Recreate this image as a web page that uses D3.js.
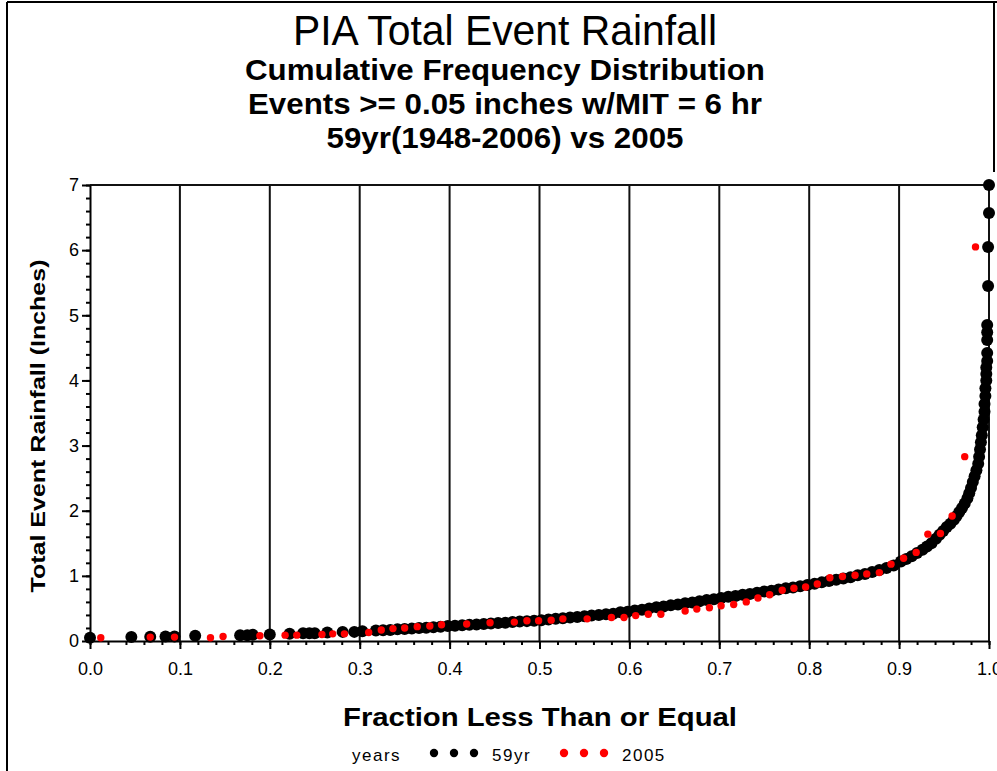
<!DOCTYPE html>
<html>
<head>
<meta charset="utf-8">
<script src="https://cdn.jsdelivr.net/npm/d3@7"></script>
<style>
body { margin: 0; background: #fff; }
svg { display: block; }
.tick text { font-family: "Liberation Sans", Arial, sans-serif; font-size: 18px; fill: #000; }
</style>
</head>
<body>
<div id="canvas"></div>
<script>
// 59yr (1948-2006) events: fraction less than or equal, total event rainfall (inches)
var frac59 = [0.000, 0.046, 0.067, 0.084, 0.094, 0.117, 0.167, 0.175, 0.181, 0.200,
  0.222, 0.237, 0.244, 0.250, 0.264, 0.281, 0.294, 0.303, 0.318, 0.326,
  0.334, 0.342, 0.350, 0.358, 0.366, 0.374, 0.382, 0.390, 0.398, 0.406,
  0.414, 0.422, 0.430, 0.438, 0.446, 0.454, 0.462, 0.470, 0.478, 0.486,
  0.494, 0.502, 0.510, 0.518, 0.526, 0.534, 0.542, 0.550, 0.558, 0.566,
  0.574, 0.582, 0.590, 0.598, 0.606, 0.614, 0.622, 0.630, 0.638, 0.646,
  0.654, 0.662, 0.670, 0.678, 0.686, 0.694, 0.702, 0.710, 0.718, 0.726,
  0.734, 0.742, 0.750, 0.758, 0.766, 0.774, 0.782, 0.790, 0.798, 0.806,
  0.814, 0.822, 0.830, 0.838, 0.846, 0.854, 0.862, 0.870, 0.878, 0.886,
  0.894, 0.902, 0.908, 0.914, 0.920, 0.926, 0.931, 0.936, 0.941, 0.945,
  0.949, 0.953, 0.957, 0.961, 0.964, 0.967, 0.970, 0.973, 0.976, 0.978,
  0.980, 0.982, 0.984, 0.986, 0.988, 0.989, 0.990, 0.991, 0.992, 0.993,
  0.994, 0.995, 0.995, 0.996, 0.996, 0.997, 0.997, 0.997, 0.998, 0.998,
  0.998, 0.998, 0.998, 0.999, 0.999, 1.000, 1.000];
var rain59 = [0.05, 0.06, 0.065, 0.07, 0.07, 0.08, 0.09, 0.09, 0.095, 0.10,
  0.11, 0.12, 0.12, 0.12, 0.13, 0.14, 0.14, 0.15, 0.16, 0.165,
  0.17, 0.18, 0.185, 0.19, 0.20, 0.205, 0.21, 0.22, 0.23, 0.235,
  0.24, 0.25, 0.255, 0.26, 0.27, 0.275, 0.28, 0.29, 0.30, 0.305,
  0.31, 0.32, 0.33, 0.34, 0.35, 0.36, 0.37, 0.38, 0.39, 0.40,
  0.41, 0.42, 0.44, 0.45, 0.47, 0.48, 0.50, 0.52, 0.53, 0.55,
  0.56, 0.58, 0.59, 0.61, 0.63, 0.64, 0.66, 0.68, 0.69, 0.71,
  0.72, 0.74, 0.76, 0.77, 0.79, 0.81, 0.82, 0.84, 0.86, 0.88,
  0.90, 0.92, 0.94, 0.96, 0.98, 1.01, 1.03, 1.06, 1.09, 1.12,
  1.16, 1.22, 1.26, 1.30, 1.35, 1.40, 1.45, 1.50, 1.57, 1.63,
  1.69, 1.75, 1.80, 1.86, 1.92, 1.98, 2.04, 2.11, 2.19, 2.27,
  2.35, 2.44, 2.53, 2.62, 2.72, 2.83, 2.94, 3.05, 3.16, 3.28,
  3.40, 3.52, 3.64, 3.76, 3.88, 4.00, 4.10, 4.20, 4.30, 4.42,
  4.62, 4.74, 4.85, 5.45, 6.05, 6.57, 7.00];

// 2005 events
var frac05 = [0.012, 0.067, 0.094, 0.134, 0.148, 0.189, 0.217, 0.230, 0.258, 0.270,
  0.283, 0.310, 0.324, 0.337, 0.350, 0.364, 0.378, 0.391, 0.419, 0.445,
  0.472, 0.486, 0.499, 0.513, 0.526, 0.553, 0.580, 0.594, 0.607, 0.621,
  0.635, 0.662, 0.675, 0.689, 0.702, 0.716, 0.730, 0.743, 0.756, 0.770,
  0.783, 0.796, 0.809, 0.823, 0.837, 0.851, 0.864, 0.878, 0.891, 0.905,
  0.919, 0.932, 0.946, 0.959, 0.973, 0.985];
var rain05 = [0.05, 0.06, 0.06, 0.05, 0.07, 0.08, 0.09, 0.09, 0.10, 0.11,
  0.11, 0.13, 0.17, 0.19, 0.20, 0.22, 0.23, 0.25, 0.26, 0.28,
  0.29, 0.31, 0.31, 0.32, 0.34, 0.34, 0.36, 0.36, 0.39, 0.41,
  0.41, 0.46, 0.49, 0.51, 0.54, 0.56, 0.60, 0.66, 0.71, 0.78,
  0.81, 0.83, 0.875, 0.97, 0.99, 1.01, 1.03, 1.05, 1.18, 1.27,
  1.36, 1.64, 1.65, 1.92, 2.83, 6.05];

var titleLines = ["PIA Total Event Rainfall", "Cumulative Frequency Distribution",
  "Events >= 0.05 inches w/MIT = 6 hr", "59yr(1948-2006) vs 2005"];
var xMajor = [0, 0.1, 0.2, 0.3, 0.4, 0.5, 0.6, 0.7, 0.8, 0.9, 1.0];
var yMajor = [0, 1, 2, 3, 4, 5, 6, 7];
var seriesNames = ["59yr", "2005"];
var seriesColors = ["#000", "#ff0000"];

var width = 997, height = 771;
var svg = d3.select("#canvas").append("svg")
  .attr("width", width)
  .attr("height", height);

var x = d3.scaleLinear().domain([0, 1]).range([90, 989]);
var y = d3.scaleLinear().domain([0, 7]).range([641, 185]);

// outer frame
svg.append("line").attr("x1", 7).attr("x2", 7).attr("y1", 2).attr("y2", height).attr("stroke", "#000").attr("stroke-width", 2);
svg.append("line").attr("x1", 7).attr("x2", width).attr("y1", 2).attr("y2", 2).attr("stroke", "#000").attr("stroke-width", 2);
svg.append("line").attr("x1", 994).attr("x2", 994).attr("y1", 2).attr("y2", 172).attr("stroke", "#000").attr("stroke-width", 2);

// titles
var titleSizes = [42, 30, 30, 30];
var titleY = [45, 80, 114, 148];
var titleLen = [424, 520, 514, 357];
svg.selectAll(".title").data(titleLines).enter()
  .append("text")
  .attr("class", "title")
  .attr("x", 505)
  .attr("y", function (d, i) { return titleY[i]; })
  .attr("text-anchor", "middle")
  .attr("textLength", function (d, i) { return titleLen[i]; })
  .attr("lengthAdjust", "spacingAndGlyphs")
  .style("font-family", "'Liberation Sans', Arial, sans-serif")
  .style("font-weight", function (d, i) { return i == 0 ? "normal" : "bold"; })
  .style("font-size", function (d, i) { return titleSizes[i] + "px"; })
  .text(function (d) { return d; });

// vertical grid lines
svg.append("g").selectAll("line")
  .data(xMajor.slice(1, -1)).enter()
  .append("line")
  .attr("x1", function (d) { return x(d); })
  .attr("x2", function (d) { return x(d); })
  .attr("y1", y(7))
  .attr("y2", y(0))
  .attr("stroke", "#111")
  .attr("stroke-width", 2);

// frame top and right
svg.append("line").attr("x1", x(0)).attr("x2", x(1)).attr("y1", y(7)).attr("y2", y(7)).attr("stroke", "#111").attr("stroke-width", 2);
svg.append("line").attr("x1", x(1)).attr("x2", x(1)).attr("y1", y(7)).attr("y2", y(0)).attr("stroke", "#111").attr("stroke-width", 2);

// minor ticks
svg.append("g")
  .attr("transform", "translate(0," + y(0) + ")")
  .call(d3.axisBottom(x).tickValues(d3.range(0, 51).map(function (i) { return i / 50; })).tickSize(4).tickFormat(""))
  .call(function (g) { g.select(".domain").remove(); g.selectAll("line").attr("stroke-width", 2); });
svg.append("g")
  .attr("transform", "translate(" + x(0) + ",0)")
  .call(d3.axisLeft(y).tickValues(d3.range(0, 36).map(function (i) { return i / 5; })).tickSize(4).tickFormat(""))
  .call(function (g) { g.select(".domain").remove(); g.selectAll("line").attr("stroke-width", 2); });

// major axes
svg.append("g")
  .attr("transform", "translate(0," + y(0) + ")")
  .call(d3.axisBottom(x).tickValues(xMajor).tickSize(8).tickSizeOuter(0).tickPadding(13).tickFormat(d3.format(".1f")))
  .call(function (g) { g.selectAll("line, path").attr("stroke-width", 2); });
svg.append("g")
  .attr("transform", "translate(" + x(0) + ",0)")
  .call(d3.axisLeft(y).tickValues(yMajor).tickSize(8).tickSizeOuter(0).tickPadding(3).tickFormat(d3.format("d")))
  .call(function (g) { g.selectAll("line, path").attr("stroke-width", 2); });

// axis labels
svg.append("text")
  .attr("x", 540)
  .attr("y", 726)
  .attr("text-anchor", "middle")
  .attr("textLength", 394)
  .attr("lengthAdjust", "spacingAndGlyphs")
  .style("font-family", "'Liberation Sans', Arial, sans-serif")
  .style("font-weight", "bold")
  .style("font-size", "25px")
  .text("Fraction Less Than or Equal");

svg.append("text")
  .attr("transform", "translate(45," + 426 + ") rotate(-90)")
  .attr("text-anchor", "middle")
  .attr("textLength", 333)
  .attr("lengthAdjust", "spacingAndGlyphs")
  .style("font-family", "'Liberation Sans', Arial, sans-serif")
  .style("font-weight", "bold")
  .style("font-size", "21px")
  .text("Total Event Rainfall (Inches)");

// points
var data59 = frac59.map(function (f, i) { return [f, rain59[i]]; });
var data05 = frac05.map(function (f, i) { return [f, rain05[i]]; });

svg.append("g").selectAll("circle")
  .data(data59).enter()
  .append("circle")
  .attr("cx", function (d) { return x(d[0]); })
  .attr("cy", function (d) { return y(d[1]); })
  .attr("r", 6)
  .attr("fill", seriesColors[0]);

svg.append("g").selectAll("circle")
  .data(data05).enter()
  .append("circle")
  .attr("cx", function (d) { return x(d[0]); })
  .attr("cy", function (d) { return y(d[1]); })
  .attr("r", 3.7)
  .attr("fill", seriesColors[1]);

// legend
var legend = svg.append("g").attr("transform", "translate(0,753)");
legend.append("text")
  .attr("x", 352).attr("y", 8)
  .style("font-family", "'Liberation Sans', Arial, sans-serif")
  .style("font-size", "17px")
  .style("letter-spacing", "1.5px")
  .text("years");
var legendX = [434, 564];
seriesNames.forEach(function (name, s) {
  legend.selectAll(".m" + s)
    .data([0, 1, 2]).enter()
    .append("circle")
    .attr("cx", function (k) { return legendX[s] + k * 20; })
    .attr("cy", 0)
    .attr("r", 4.2)
    .attr("fill", seriesColors[s]);
  legend.append("text")
    .attr("x", legendX[s] + 58).attr("y", 8)
    .style("font-family", "'Liberation Sans', Arial, sans-serif")
    .style("font-size", "17px")
    .style("letter-spacing", "1.5px")
    .text(name);
});
</script>
</body>
</html>
